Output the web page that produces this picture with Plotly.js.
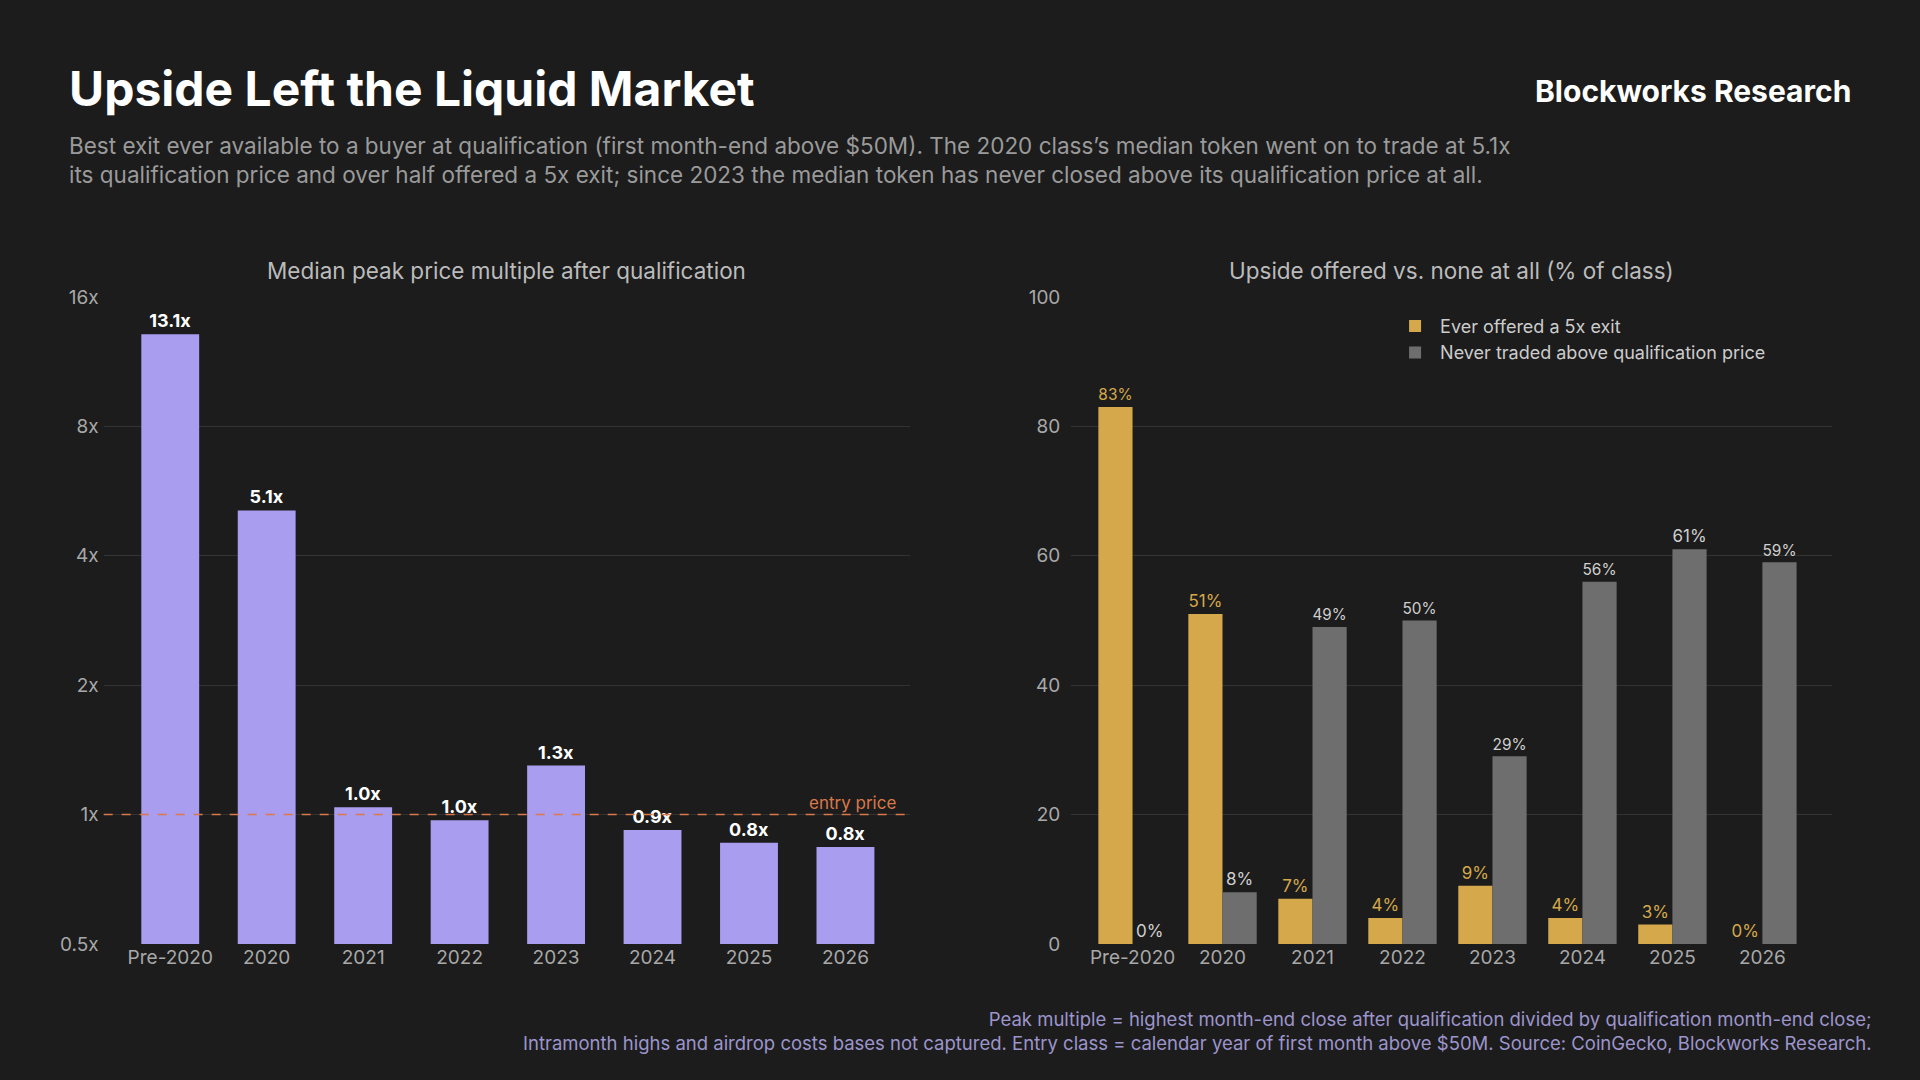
<!DOCTYPE html>
<html><head><meta charset="utf-8">
<script src="https://cdn.plot.ly/plotly-3.0.1.min.js"></script>
<style>html,body{margin:0;padding:0;background:#1c1c1c;}#chart{width:1920px;height:1080px;}</style>
</head><body><div id="chart"></div>
<script>
// data
const classes = ['Pre-2020', '2020', '2021', '2022', '2023', '2024', '2025', '2026'];
const peakMultiple = [13.1, 5.1, 1.04, 0.97, 1.3, 0.92, 0.86, 0.84];
const peakLabels = ['13.1x', '5.1x', '1.0x', '1.0x', '1.3x', '0.9x', '0.8x', '0.8x'];
const offered5x = [83, 51, 7, 4, 9, 4, 3, 0];
const neverAbove = [0, 8, 49, 50, 29, 56, 61, 59];

const gold = '#D4A84B', gray = '#6E6E6E', lav = '#A99DF0';
const font = 'Inter, "Noto Sans", sans-serif';

const traces = [
  {
    x: classes, y: peakMultiple, type: 'bar', base: 0, marker: {color: lav},
    text: peakLabels, textposition: 'outside', cliponaxis: false,
    textfont: {color: '#ffffff', size: 18, family: font, weight: 700},
    width: 0.6, xaxis: 'x', yaxis: 'y', showlegend: false
  },
  {
    x: classes, y: offered5x, type: 'bar', name: 'Ever offered a 5x exit',
    marker: {color: gold}, text: offered5x.map(v => v + '%'), textposition: 'outside',
    textfont: {color: gold, size: 17, family: font}, cliponaxis: false,
    xaxis: 'x2', yaxis: 'y2'
  },
  {
    x: classes, y: neverAbove, type: 'bar', name: 'Never traded above qualification price',
    marker: {color: gray}, text: neverAbove.map(v => v + '%'), textposition: 'outside',
    textfont: {color: '#cfcfcf', size: 17, family: font}, cliponaxis: false,
    xaxis: 'x2', yaxis: 'y2'
  }
];

const tickFont = {color: '#a8a8a8', size: 19, family: font};
const layout = {
  width: 1920, height: 1080,
  paper_bgcolor: '#1c1c1c', plot_bgcolor: '#1c1c1c',
  margin: {l: 0, r: 0, t: 0, b: 0},
  font: {family: font, color: '#cccccc'},
  barmode: 'group', bargap: 0.24, bargroupgap: 0.0,
  xaxis: {domain: [0.054, 0.474], anchor: 'y', type: 'category', range: [-0.69, 7.67],
    tickfont: tickFont, showgrid: false, zeroline: false, ticks: '', showline: false},
  yaxis: {domain: [0.126, 0.725], type: 'log', range: [Math.log10(0.5), Math.log10(16)],
    tickvals: [0.5, 1, 2, 4, 8, 16], ticktext: ['0.5x', '1x', '2x', '4x', '8x', '16x'],
    tickfont: tickFont, gridcolor: '#333333', zeroline: false, ticklabelstandoff: 4},
  xaxis2: {domain: [0.558, 0.954], anchor: 'y2', type: 'category', range: [-0.68, 7.77],
    tickfont: tickFont, showgrid: false, zeroline: false, ticks: ''},
  yaxis2: {domain: [0.126, 0.725], anchor: 'x2', range: [0, 100], dtick: 20,
    tickfont: tickFont, gridcolor: '#333333', zeroline: false, ticklabelstandoff: 10},
  legend: {x: 0.724, y: 0.715, xanchor: 'left', yanchor: 'top', bgcolor: 'rgba(0,0,0,0)',
    font: {color: '#cccccc', size: 18, family: font}, itemwidth: 40, tracegroupgap: 4},
  shapes: [{type: 'line', xref: 'x domain', yref: 'y', x0: 0, x1: 1, y0: 1, y1: 1,
    line: {color: '#D9784A', width: 1.5, dash: 'dash'}}],
  annotations: [
    {text: 'Upside Left the Liquid Market', xref: 'paper', yref: 'paper', x: 0.035, y: 0.918,
      xanchor: 'left', yanchor: 'middle', showarrow: false,
      font: {size: 48, color: '#ffffff', family: font, weight: 700}},
    {text: 'Blockworks Research', xref: 'paper', yref: 'paper', x: 0.965, y: 0.916,
      xanchor: 'right', yanchor: 'middle', showarrow: false,
      font: {size: 30, color: '#ffffff', family: font, weight: 700}},
    {text: 'Best exit ever available to a buyer at qualification (first month-end above $50M). The 2020 class’s median token went on to trade at 5.1x<br>its qualification price and over half offered a 5x exit; since 2023 the median token has never closed above its qualification price at all.',
      xref: 'paper', yref: 'paper', x: 0.035, y: 0.852, xanchor: 'left', yanchor: 'middle', align: 'left',
      showarrow: false, font: {size: 22.5, color: '#9a9a9a', family: font}},
    {text: 'Median peak price multiple after qualification', xref: 'x domain', yref: 'paper', x: 0.5, y: 0.75,
      xanchor: 'center', yanchor: 'middle', showarrow: false, font: {size: 22.5, color: '#bbbbbb', family: font}},
    {text: 'Upside offered vs. none at all (% of class)', xref: 'x2 domain', yref: 'paper', x: 0.5, y: 0.75,
      xanchor: 'center', yanchor: 'middle', showarrow: false, font: {size: 22.5, color: '#bbbbbb', family: font}},
    {text: 'entry price', xref: 'x domain', yref: 'y', x: 0.985, y: Math.log10(1), xanchor: 'right', yanchor: 'bottom',
      showarrow: false, font: {size: 17, color: '#D9784A', family: font}},
    {text: 'Peak multiple = highest month-end close after qualification divided by qualification month-end close;<br>Intramonth highs and airdrop costs bases not captured. Entry class = calendar year of first month above $50M. Source: CoinGecko, Blockworks Research.',
      xref: 'paper', yref: 'paper', x: 0.976, y: 0.045, xanchor: 'right', yanchor: 'middle', align: 'right',
      showarrow: false, font: {size: 18.5, color: '#9c95cc', family: font}}
  ]
};

Plotly.newPlot('chart', traces, layout, {displayModeBar: false, staticPlot: true});
</script></body></html>
